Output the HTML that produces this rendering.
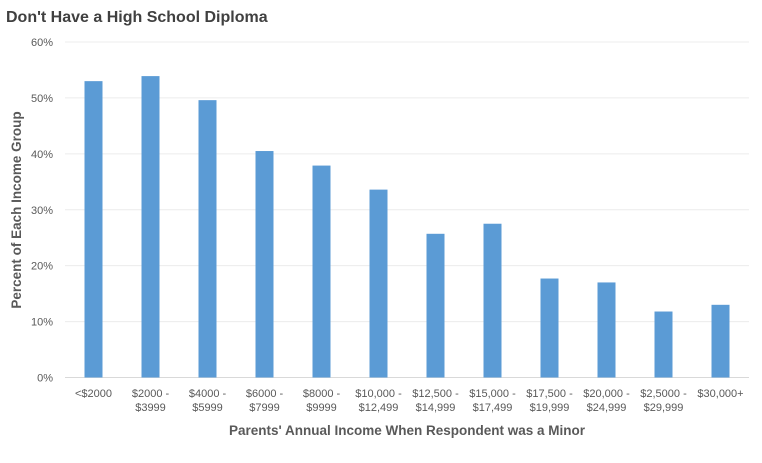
<!DOCTYPE html>
<html><head><meta charset="utf-8"><style>
body{margin:0;background:#fff;}
svg{display:block;font-family:"Liberation Sans",sans-serif;}
</style></head><body>
<svg id="chart" width="762" height="463">
<text x="6" y="22" font-size="16" font-weight="bold" fill="#404040">Don't Have a High School Diploma</text>
<g id="grid"></g><g id="bars"></g><g id="xlabels"></g>
<text x="407" y="435" text-anchor="middle" font-size="13.5" font-weight="bold" fill="#595959">Parents' Annual Income When Respondent was a Minor</text>
<text transform="translate(21,210) rotate(-90)" text-anchor="middle" font-size="13.5" font-weight="bold" fill="#595959">Percent of Each Income Group</text>
</svg>
<script>
const categories=[["<$2000"],["$2000 -","$3999"],["$4000 -","$5999"],["$6000 -","$7999"],["$8000 -","$9999"],["$10,000 -","$12,499"],["$12,500 -","$14,999"],["$15,000 -","$17,499"],["$17,500 -","$19,999"],["$20,000 -","$24,999"],["$2,5000 -","$29,999"],["$30,000+"]];
const values=[53.0,53.9,49.6,40.5,37.9,33.6,25.7,27.5,17.7,17.0,11.8,13.0];
const yTicks=[0,10,20,30,40,50,60];
const ns="http://www.w3.org/2000/svg";
const x0=65,x1=749,y0=377.5,yTop=42;
const band=(x1-x0)/categories.length;
const y=v=>y0-(y0-yTop)*v/60;
const xc=i=>x0+band*(i+0.5);
function mk(t,a,p){const e=document.createElementNS(ns,t);for(const k in a)e.setAttribute(k,a[k]);p.appendChild(e);return e;}
const grid=document.getElementById('grid'),bars=document.getElementById('bars'),xl=document.getElementById('xlabels');
yTicks.forEach(t=>{
 const l=mk('line',{x1:x0,x2:x1,y1:y(t),y2:y(t),stroke:t===0?'#d9d9d9':'#ececec','stroke-width':1},grid);
 
 
 const tx=mk('text',{x:53,y:y(t)+4,'text-anchor':'end','font-size':11,fill:'#595959'},grid);
 tx.textContent=t+'%';
 
 
});
values.forEach((v,i)=>{
 const r=mk('rect',{x:xc(i)-9,y:y(v),width:18,height:y0-y(v),fill:'#5b9bd5'},bars);
 
 
});
categories.forEach((c,i)=>{
 c.forEach((s,j)=>{
  const t=mk('text',{x:xc(i),y:397+j*14,'text-anchor':'middle','font-size':11,fill:'#595959'},xl);
  t.textContent=s;
  
  
 });
});
</script>
</body></html>
